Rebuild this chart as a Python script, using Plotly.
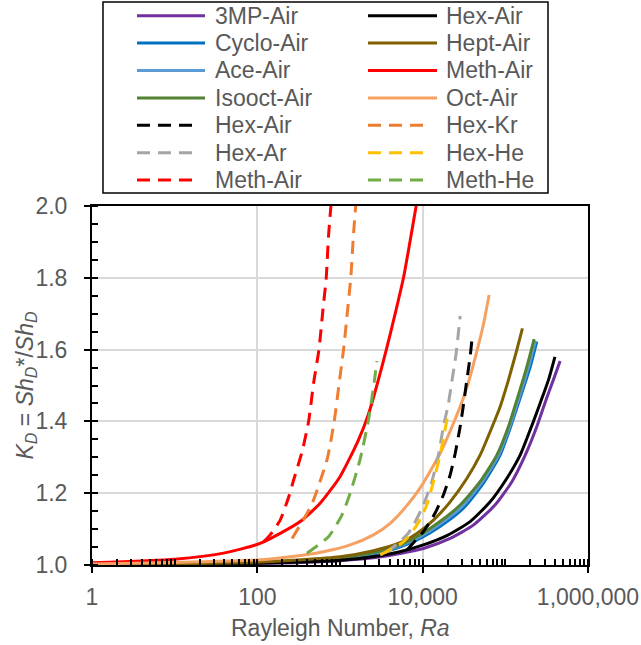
import plotly.graph_objects as go

# ---------------- data (Ra, K_D) ----------------
ra_3mp = [1, 100, 1000, 3000, 5300, 10200, 21500, 41000, 75000, 120000, 174000, 240000, 300000, 380000, 460000]
k_3mp = [1.001, 1.004, 1.012, 1.022, 1.032, 1.046, 1.074, 1.111, 1.167, 1.232, 1.306, 1.385, 1.45, 1.515, 1.568]

ra_cyclo = [1, 100, 1000, 3000, 5300, 9300, 16200, 31100, 54300, 86500, 117000, 151000, 200000, 240000]
k_cyclo = [1.001, 1.006, 1.018, 1.034, 1.05, 1.074, 1.107, 1.158, 1.228, 1.306, 1.388, 1.465, 1.552, 1.622]

ra_ace = [1, 100, 1000, 3000, 5300, 9300, 16200, 30000, 52000, 83000, 114000, 145000, 191000, 232000]
k_ace = [1.001, 1.006, 1.019, 1.036, 1.053, 1.079, 1.114, 1.163, 1.23, 1.306, 1.388, 1.462, 1.552, 1.625]

ra_isooct = [1, 100, 1000, 3000, 5300, 9300, 16200, 28400, 49500, 78900, 110000, 138000, 182000, 223000]
k_isooct = [1.001, 1.006, 1.02, 1.038, 1.056, 1.084, 1.121, 1.167, 1.232, 1.306, 1.388, 1.46, 1.552, 1.629]

ra_hex = [1, 100, 1000, 3000, 5300, 10200, 19600, 37500, 65500, 104000, 151000, 209000, 263000, 332000, 398000]
k_hex = [1.001, 1.005, 1.013, 1.026, 1.037, 1.056, 1.082, 1.121, 1.176, 1.241, 1.306, 1.388, 1.45, 1.515, 1.58]

ra_hept = [1, 100, 1000, 2540, 5350, 8500, 13500, 21500, 34200, 49500, 70100, 86500, 109000, 138000, 161000]
k_hept = [1.001, 1.008, 1.023, 1.04, 1.062, 1.088, 1.125, 1.176, 1.241, 1.306, 1.388, 1.441, 1.515, 1.60, 1.659]

ra_meth = [1, 10, 39, 108, 189, 330, 575, 1000, 1670, 2210, 2790, 3590, 4650, 5860, 7080, 8340]
k_meth = [1.006, 1.016, 1.033, 1.06, 1.088, 1.121, 1.172, 1.246, 1.348, 1.42, 1.50, 1.595, 1.70, 1.80, 1.905, 2.0]

ra_oct = [1, 10, 100, 250, 630, 1330, 2540, 4050, 6460, 9330, 16200, 23100, 31100, 37500, 45200, 54300, 63700]
k_oct = [1.003, 1.007, 1.014, 1.023, 1.037, 1.056, 1.084, 1.116, 1.166, 1.215, 1.31, 1.39, 1.465, 1.525, 1.595, 1.67, 1.752]

ra_hex_air_d = [6460, 7740, 10200, 14100, 17800, 21500, 24700, 28400, 31100, 34200, 37500, 40000]
k_hex_air_d = [1.042, 1.062, 1.093, 1.144, 1.195, 1.251, 1.31, 1.385, 1.445, 1.515, 1.58, 1.641]

ra_hex_ar = [3550, 5010, 6460, 7740, 10200, 12900, 15500, 17800, 20500, 22500, 25400, 28400]
k_hex_ar = [1.035, 1.06, 1.084, 1.111, 1.167, 1.232, 1.306, 1.385, 1.45, 1.51, 1.59, 1.694]

ra_meth_air_d = [119, 143, 189, 240, 275, 347, 417, 479, 556, 621, 681, 726, 776]
k_meth_air_d = [1.065, 1.084, 1.125, 1.19, 1.237, 1.315, 1.40, 1.506, 1.60, 1.71, 1.80, 1.915, 2.0]

ra_hex_kr = [263, 380, 457, 550, 708, 851, 977, 1104, 1211, 1349, 1459, 1549]
k_hex_kr = [1.074, 1.135, 1.17, 1.22, 1.30, 1.40, 1.506, 1.60, 1.69, 1.80, 1.924, 2.0]

ra_hex_he = [3060, 5890, 8510, 11200, 13500, 16200, 20500]
k_hex_he = [1.028, 1.065, 1.111, 1.167, 1.232, 1.306, 1.427]

ra_meth_he = [398, 726, 1054, 1327, 1754, 2213, 2594, 2793]
k_meth_he = [1.033, 1.079, 1.139, 1.20, 1.295, 1.405, 1.51, 1.568]

x_tickvals = [1, 100, 10000, 1000000]
x_ticktext = ["1", "100", "10,000", "1,000,000"]
y_tickvals = [1.0, 1.2, 1.4, 1.6, 1.8, 2.0]

# ---------------- series (drawing order) ----------------
series = [
    ("3MP-Air", ra_3mp, k_3mp, "#7030A0", "solid"),
    ("Cyclo-Air", ra_cyclo, k_cyclo, "#0070C0", "solid"),
    ("Ace-Air", ra_ace, k_ace, "#5B9BD5", "solid"),
    ("Isooct-Air", ra_isooct, k_isooct, "#548235", "solid"),
    ("Hex-Air", ra_hex, k_hex, "#000000", "solid"),
    ("Hept-Air", ra_hept, k_hept, "#806000", "solid"),
    ("Meth-Air", ra_meth, k_meth, "#FF0000", "solid"),
    ("Oct-Air", ra_oct, k_oct, "#F4A162", "solid"),
    ("Hex-Air", ra_hex_air_d, k_hex_air_d, "#000000", "dash"),
    ("Hex-Ar", ra_hex_ar, k_hex_ar, "#A5A5A5", "dash"),
    ("Meth-Air", ra_meth_air_d, k_meth_air_d, "#FF0000", "dash"),
    ("Hex-Kr", ra_hex_kr, k_hex_kr, "#ED7D31", "dash"),
    ("Hex-He", ra_hex_he, k_hex_he, "#FFC000", "dash"),
    ("Meth-He", ra_meth_he, k_meth_he, "#70AD47", "dash"),
]

DASH = "13px,8px"
FONT = "Liberation Sans"
GREY = "#595959"
FS = 23

fig = go.Figure()
for name, xs, ys, col, style in series:
    fig.add_trace(go.Scatter(
        x=xs, y=ys, mode="lines", name=name, showlegend=False,
        line=dict(color=col, width=3, dash=(DASH if style == "dash" else "solid"),
                  shape="spline", smoothing=0.6),
    ))

# ---------------- custom legend (two columns, row-major) ----------------
legend_order = [
    ("3MP-Air", "#7030A0", "solid"), ("Hex-Air", "#000000", "solid"),
    ("Cyclo-Air", "#0070C0", "solid"), ("Hept-Air", "#806000", "solid"),
    ("Ace-Air", "#5B9BD5", "solid"), ("Meth-Air", "#FF0000", "solid"),
    ("Isooct-Air", "#548235", "solid"), ("Oct-Air", "#F4A162", "solid"),
    ("Hex-Air", "#000000", "dash"), ("Hex-Kr", "#ED7D31", "dash"),
    ("Hex-Ar", "#A5A5A5", "dash"), ("Hex-He", "#FFC000", "dash"),
    ("Meth-Air", "#FF0000", "dash"), ("Meth-He", "#70AD47", "dash"),
]

W, H = 641, 645
# plot area in page pixels
PL, PR, PT, PB = 92, 588, 206, 565


def px_x(px):
    return (px - PL) / (PR - PL)


def px_y(py):
    return (PB - py) / (PB - PT)


shapes = []
annotations = []
shapes.append(dict(type="rect", xref="paper", yref="paper",
                   x0=px_x(103), x1=px_x(548), y0=px_y(193), y1=px_y(2),
                   line=dict(color="#000000", width=1.5), fillcolor="white", layer="above"))
col_line_x = [(137, 205), (368, 437)]
col_text_x = [213, 444]
row_y0, row_dy = 15.7, 27.4
for i, (name, col, style) in enumerate(legend_order):
    c = i % 2
    r = i // 2
    yy = row_y0 + r * row_dy
    x0, x1 = col_line_x[c]
    if style == "dash":
        x1 = x0 + 55
    shapes.append(dict(type="line", xref="paper", yref="paper",
                       x0=px_x(x0), x1=px_x(x1), y0=px_y(yy), y1=px_y(yy),
                       line=dict(color=col, width=3, dash=(DASH if style == "dash" else "solid")),
                       layer="above"))
    annotations.append(dict(xref="paper", yref="paper", x=px_x(col_text_x[c]), y=px_y(yy),
                            text=name, showarrow=False, xanchor="left", yanchor="middle",
                            font=dict(family=FONT, size=FS, color=GREY)))

# axis titles
annotations.append(dict(xref="paper", yref="paper", x=0.5, y=px_y(628),
                        text="Rayleigh Number, <i>Ra</i>", showarrow=False,
                        xanchor="center", yanchor="middle",
                        font=dict(family=FONT, size=FS, color=GREY)))
annotations.append(dict(xref="paper", yref="paper", x=px_x(26), y=0.5, textangle=-90,
                        text="<i>K<sub>D</sub></i> = <i>Sh<sub>D</sub></i>*/<i>Sh<sub>D</sub></i>",
                        showarrow=False, xanchor="center", yanchor="middle",
                        font=dict(family=FONT, size=FS, color=GREY)))

fig.update_layout(
    width=W, height=H,
    margin=dict(l=PL, r=W - PR, t=PT, b=H - PB),
    paper_bgcolor="white", plot_bgcolor="white",
    font=dict(family=FONT, size=FS, color=GREY),
    shapes=shapes, annotations=annotations,
    showlegend=False,
)

fig.update_xaxes(
    type="log", range=[0, 6], automargin=False,
    tickvals=x_tickvals, ticktext=x_ticktext,
    showgrid=True, gridcolor="#D9D9D9", gridwidth=1.5,
    showline=True, linecolor="#000000", linewidth=2, mirror=True,
    ticks="outside", ticklen=6, tickwidth=2, tickcolor="#000000",
    minor=dict(ticks="inside", ticklen=6, tickwidth=1.5, tickcolor="#000000",
               dtick="D1", showgrid=False),
    tickfont=dict(family=FONT, size=FS, color=GREY),
    ticklabelstandoff=4,
    zeroline=False,
)
fig.update_yaxes(
    range=[1.0, 2.0], automargin=False,
    tickvals=y_tickvals, tickformat=".1f",
    showgrid=True, gridcolor="#D9D9D9", gridwidth=1.5,
    showline=True, linecolor="#000000", linewidth=2, mirror=True,
    ticks="outside", ticklen=6, tickwidth=2, tickcolor="#000000",
    minor=dict(ticks="inside", ticklen=6, tickwidth=1.5, tickcolor="#000000",
               dtick=0.05, showgrid=False),
    tickfont=dict(family=FONT, size=FS, color=GREY),
    ticklabelstandoff=12,
    zeroline=False,
)

# major ticks crossing the axis lines (inside half)
fig.update_layout(
    xaxis2=dict(type="log", range=[0, 6], overlaying="x", side="bottom", anchor="y",
                tickvals=x_tickvals, showticklabels=False, ticks="inside", ticklen=6,
                tickwidth=2, tickcolor="#000000", showgrid=False, showline=False,
                zeroline=False, automargin=False),
    yaxis2=dict(range=[1.0, 2.0], overlaying="y", side="left", anchor="x",
                tickvals=y_tickvals, showticklabels=False, ticks="inside", ticklen=6,
                tickwidth=2, tickcolor="#000000", showgrid=False, showline=False,
                zeroline=False, automargin=False),
)
fig.add_trace(go.Scatter(x=[1], y=[1.0], xaxis="x2", yaxis="y2", mode="markers",
                         marker=dict(opacity=0), showlegend=False, hoverinfo="skip"))

fig.write_html("out.html", config={"displayModeBar": False},
               post_script="document.body.style.margin='0';document.body.style.overflow='hidden';")
